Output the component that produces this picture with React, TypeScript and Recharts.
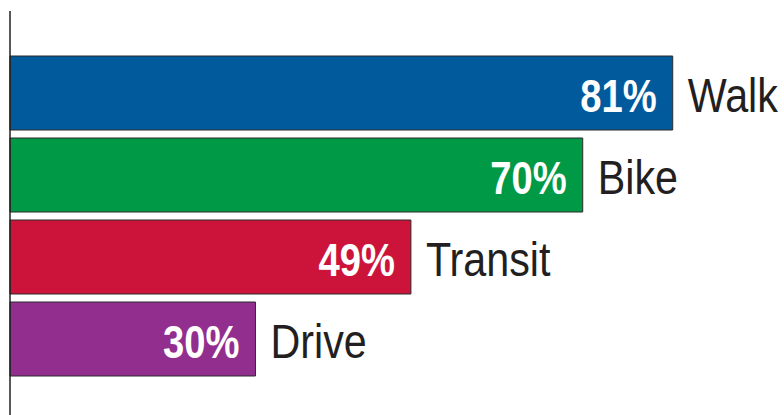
import { BarChart, Bar, XAxis, YAxis, Cell, LabelList } from "recharts";

const modes = ["Walk", "Bike", "Transit", "Drive"];
const shares = [81, 70, 49, 30];
const barColors = ["#005a9c", "#009a46", "#cc143b", "#922f8e"];

const data = modes.map((mode, i) => ({ mode, share: shares[i] }));

const font = "'Liberation Sans', Arial, sans-serif";

function ValueLabel(props: any) {
  const { x, y, width, height, value } = props;
  const tx = x + width - 16;
  const ty = y + height / 2 + 19;
  return (
    <text transform={`translate(${tx},${ty}) scale(0.83,1)`} textAnchor="end" fill="#ffffff"
      fontFamily={font} fontWeight="bold" fontSize={46}>
      {`${value}%`}
    </text>
  );
}

function NameLabel(props: any) {
  const { x, y, width, height, value } = props;
  const tx = x + width + 15;
  const ty = y + height / 2 + 19;
  return (
    <text transform={`translate(${tx},${ty}) scale(0.86,1)`} textAnchor="start" fill="#231f20"
      fontFamily={font} fontSize={48}>
      {value}
    </text>
  );
}

export default function App() {
  return (
    <div style={{ position: "absolute", left: 0, top: 0, width: 784, height: 415, background: "#fff" }}>
      <BarChart width={784} height={415} data={data} layout="vertical"
        margin={{ top: 11, right: 0, bottom: 0, left: 9 }} barCategoryGap={4}>
        <XAxis type="number" domain={[0, 94.6]} hide />
        <YAxis type="category" dataKey="mode" width={1} tick={false} tickLine={false}
          axisLine={{ stroke: "#231f20", strokeWidth: 1.5 }} padding={{ top: 41, bottom: 35 }} />
        <Bar dataKey="share" stroke="#2b2b2b" strokeWidth={1} isAnimationActive={false}>
          {data.map((d, i) => (
            <Cell key={d.mode} fill={barColors[i]} />
          ))}
          <LabelList dataKey="share" content={<ValueLabel />} />
          <LabelList dataKey="mode" content={<NameLabel />} />
        </Bar>
      </BarChart>
    </div>
  );
}
